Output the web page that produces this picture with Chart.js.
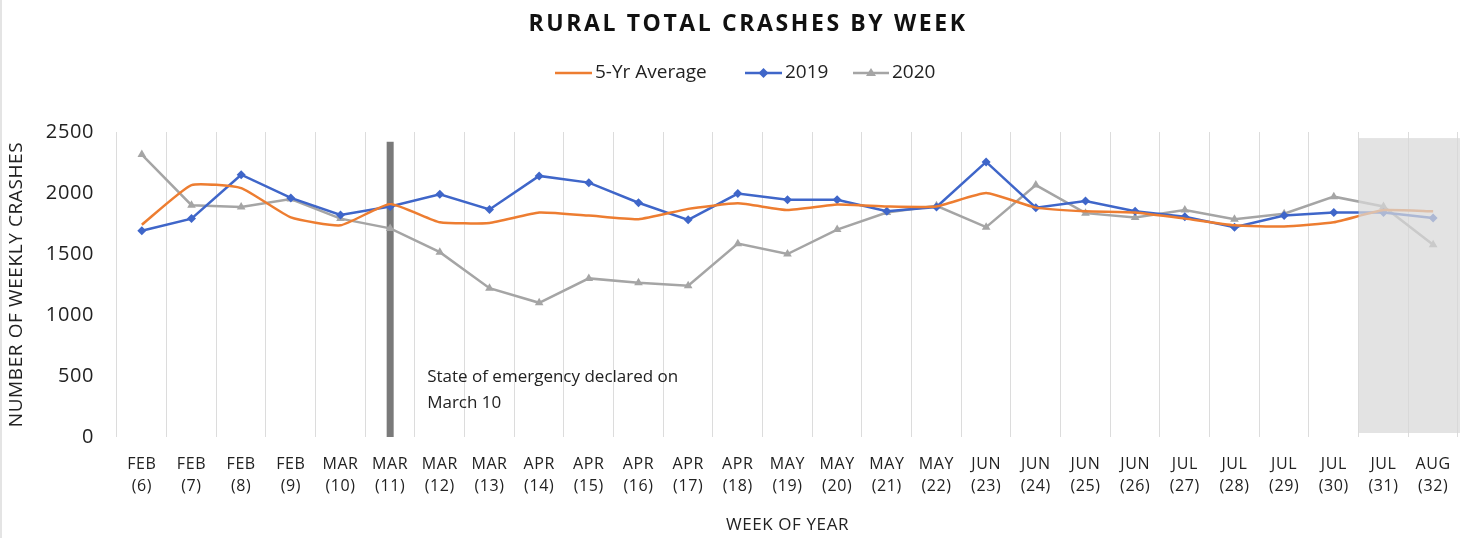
<!DOCTYPE html>
<html lang="en">
<head>
    <meta charset="UTF-8">
    <title>Rural Total Crashes by Week</title>
    <script src="https://cdn.jsdelivr.net/npm/chart.js"></script>
    <style>
        html, body { margin: 0; padding: 0; background: #fff; }
        #wrap { position: relative; width: 1466px; height: 538px; border-left: 2px solid #e4e4e4; box-sizing: border-box; }
    </style>
</head>
<body>
    <div id="wrap">
        <canvas id="crashChart"></canvas>
    </div>

    <script>
        // weeks of year (month, week number)
        const months = ["FEB", "FEB", "FEB", "FEB", "MAR", "MAR", "MAR", "MAR", "APR", "APR", "APR", "APR", "APR",
            "MAY", "MAY", "MAY", "MAY", "JUN", "JUN", "JUN", "JUN", "JUL", "JUL", "JUL", "JUL", "JUL", "AUG"];
        const weeks = [6, 7, 8, 9, 10, 11, 12, 13, 14, 15, 16, 17, 18, 19, 20, 21, 22, 23, 24, 25, 26, 27, 28, 29, 30, 31, 32];

        const avg5yr = [1740, 2065, 2040, 1800, 1735, 1910, 1760, 1755, 1840, 1815, 1785, 1870, 1915,
            1860, 1905, 1890, 1890, 2000, 1880, 1850, 1840, 1790, 1735, 1725, 1760, 1860, 1850];
        const y2019 = [1690, 1790, 2150, 1960, 1820, 1890, 1990, 1865, 2140, 2085, 1920, 1780, 1995,
            1945, 1945, 1850, 1885, 2255, 1880, 1935, 1850, 1805, 1720, 1815, 1840, 1840, 1795];
        const y2020 = [2315, 1900, 1885, 1950, 1790, 1710, 1515, 1220, 1100, 1300, 1265, 1240, 1585,
            1500, 1700, 1840, 1895, 1720, 2065, 1835, 1800, 1860, 1785, 1830, 1970, 1890, 1575];

        const yTicks = [0, 500, 1000, 1500, 2000, 2500];
        const emergencyWeek = 11;      // vertical marker
        const shadeFromWeek = 31;      // grey shaded weeks at the end
        const markerTop = 2420;
        const shadeTop = 2450;

        const labels = months.map((m, i) => [m, "(" + weeks[i] + ")"]);

        const FONT = "'Open Sans', sans-serif";
        const ORANGE = "#ED7D31", BLUE = "#3F66C9", GREY = "#A5A5A5";

        // title, legend, emergency bar, shaded region
        const extras = {
            id: "extras",
            beforeDraw(chart) {
                // slightly spaced lettering like the original
                chart.ctx.letterSpacing = "0.6px";
            },
            beforeDatasetsDraw(chart) {
                const { ctx, scales: { x, y } } = chart;
                const xi = weeks.indexOf(emergencyWeek);
                const bx = x.getPixelForValue(xi);
                ctx.save();
                ctx.fillStyle = "#7a7a7a";
                ctx.fillRect(bx - 3.5, y.getPixelForValue(markerTop), 7, y.getPixelForValue(0) - y.getPixelForValue(markerTop));

                ctx.fillStyle = "#222";
                ctx.letterSpacing = "0px";
                ctx.font = "17px " + FONT;
                ctx.textAlign = "left";
                ctx.textBaseline = "middle";
                ctx.fillText("State of emergency declared on", bx + 37, y.getPixelForValue(500) + 1);
                ctx.fillText("March 10", bx + 37, y.getPixelForValue(500) + 27);
                ctx.restore();
            },
            afterDatasetsDraw(chart) {
                const { ctx, chartArea, scales: { x, y } } = chart;
                const si = weeks.indexOf(shadeFromWeek);
                const left = (x.getPixelForValue(si - 1) + x.getPixelForValue(si)) / 2;
                ctx.save();
                ctx.fillStyle = "rgba(216,216,216,0.72)";
                ctx.fillRect(left, y.getPixelForValue(shadeTop), chartArea.right + 2 - left, y.getPixelForValue(0) - y.getPixelForValue(shadeTop) - 4);
                ctx.restore();
            },
            afterDraw(chart) {
                const { ctx } = chart;
                ctx.save();
                ctx.fillStyle = "#111";
                ctx.font = "bold 23px " + FONT;
                ctx.textAlign = "center";
                ctx.textBaseline = "middle";
                ctx.letterSpacing = "2.6px";
                ctx.fillText("RURAL TOTAL CRASHES BY WEEK", 746, 24);
                ctx.letterSpacing = "0px";

                // legend
                ctx.font = "19px " + FONT;
                ctx.textAlign = "left";
                const ly = 73;
                const items = [
                    { text: "5-Yr Average", color: ORANGE, x0: 553, x1: 590, marker: null },
                    { text: "2019", color: BLUE, x0: 743, x1: 780, marker: "diamond" },
                    { text: "2020", color: GREY, x0: 851, x1: 887, marker: "triangle" }
                ];
                items.forEach(it => {
                    ctx.strokeStyle = it.color;
                    ctx.lineWidth = 2.5;
                    ctx.beginPath();
                    ctx.moveTo(it.x0, ly);
                    ctx.lineTo(it.x1, ly);
                    ctx.stroke();
                    const cx = (it.x0 + it.x1) / 2;
                    ctx.fillStyle = it.color;
                    if (it.marker === "diamond") {
                        ctx.beginPath();
                        ctx.moveTo(cx, ly - 5); ctx.lineTo(cx + 5, ly); ctx.lineTo(cx, ly + 5); ctx.lineTo(cx - 5, ly);
                        ctx.closePath(); ctx.fill();
                    } else if (it.marker === "triangle") {
                        ctx.beginPath();
                        ctx.moveTo(cx, ly - 5); ctx.lineTo(cx + 5, ly + 3); ctx.lineTo(cx - 5, ly + 3);
                        ctx.closePath(); ctx.fill();
                    }
                    ctx.fillStyle = "#222";
                    ctx.fillText(it.text, it.x1 + 3, ly);
                });
                ctx.restore();
            }
        };

        new Chart(document.getElementById("crashChart"), {
            type: "line",
            data: {
                labels: labels,
                datasets: [
                    {
                        label: "5-Yr Average",
                        data: avg5yr,
                        borderColor: ORANGE,
                        borderWidth: 2.5,
                        pointRadius: 0,
                        tension: 0.15,
                        fill: false
                    },
                    {
                        label: "2019",
                        data: y2019,
                        borderColor: BLUE,
                        backgroundColor: BLUE,
                        borderWidth: 2.5,
                        pointStyle: "rectRot",
                        pointRadius: 4.5,
                        pointBorderWidth: 0,
                        tension: 0,
                        fill: false
                    },
                    {
                        label: "2020",
                        data: y2020,
                        borderColor: GREY,
                        backgroundColor: GREY,
                        borderWidth: 2.5,
                        pointStyle: "triangle",
                        pointRadius: 5,
                        pointBorderWidth: 0,
                        tension: 0,
                        fill: false
                    }
                ]
            },
            options: {
                responsive: true,
                maintainAspectRatio: false,
                animation: false,
                layout: { padding: { top: 132, left: 3, right: 8, bottom: 3 } },
                plugins: {
                    legend: { display: false },
                    title: { display: false },
                    tooltip: { enabled: false }
                },
                scales: {
                    x: {
                        offset: true,
                        grid: { offset: true, color: "#dcdcdc", drawTicks: false },
                        border: { display: false },
                        ticks: {
                            autoSkip: false,
                            maxRotation: 0,
                            padding: 16,
                            color: "#222",
                            font: { family: FONT, size: 16, lineHeight: 1.4 }
                        },
                        title: {
                            display: true,
                            text: "WEEK OF YEAR",
                            color: "#222",
                            font: { family: FONT, size: 17 },
                            padding: { top: 6, bottom: 0 }
                        },
                        afterFit(scale) { scale.height = 538 - 437 - 3; }
                    },
                    y: {
                        min: 0,
                        max: 2500,
                        afterBuildTicks(scale) { scale.ticks = yTicks.map(v => ({ value: v })); },
                        grid: { display: false, drawTicks: false },
                        border: { display: false },
                        ticks: {
                            padding: 23,
                            color: "#222",
                            font: { family: FONT, size: 20 },
                            callback: v => String(v)
                        },
                        title: {
                            display: true,
                            text: "NUMBER OF WEEKLY CRASHES",
                            color: "#222",
                            font: { family: FONT, size: 19 },
                            padding: { top: 0, bottom: 0 }
                        },
                        afterFit(scale) { scale.width = 112; }
                    }
                }
            },
            plugins: [extras]
        });
    </script>
</body>
</html>
